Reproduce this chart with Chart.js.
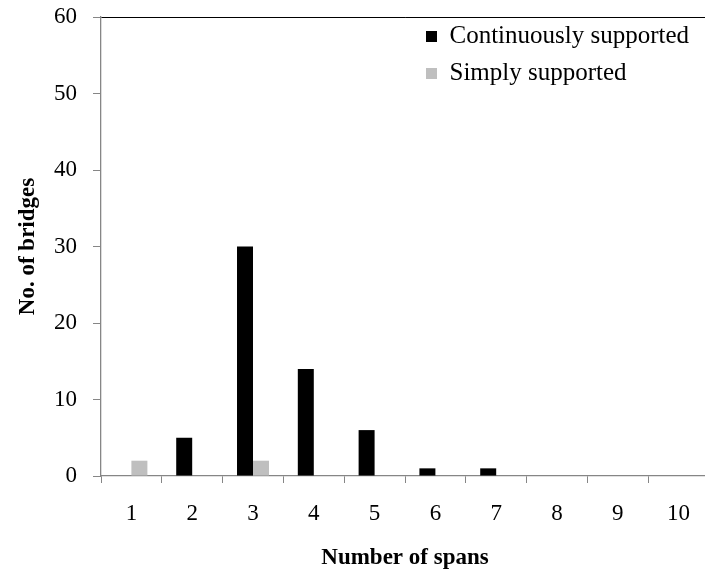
<!DOCTYPE html>
<html>
<head>
<meta charset="utf-8">
<title>Number of spans</title>
<script src="https://cdn.jsdelivr.net/npm/chart.js@4.4.1/dist/chart.umd.min.js"></script>
<style>
  html, body { margin: 0; padding: 0; background: #fff; overflow: hidden; }
  #chartBox { width: 712px; height: 576px; }
</style>
</head>
<body>
<div id="chartBox"><canvas id="spansChart" width="712" height="576"></canvas></div>
<script>
  // Data
  const spans = ['1', '2', '3', '4', '5', '6', '7', '8', '9', '10'];
  const continuousCounts = [0, 5, 30, 14, 6, 1, 1, 0, 0, 0];
  const simpleCounts = [2, 0, 2, 0, 0, 0, 0, 0, 0, 0];
  const yTicks = [0, 10, 20, 30, 40, 50, 60];

  const axisGrey = '#868686';
  Chart.defaults.font.family = '"Liberation Serif", "Times New Roman", serif';
  Chart.defaults.color = '#000';

  // put the legend inside the plot, top right
  const legendInside = {
    id: 'legendInside',
    afterLayout(chart) {
      const lg = chart.legend;
      if (!lg) return;
      const dx = 414 - lg.left;
      const dy = 12 - lg.top;
      lg.left += dx; lg.right += dx;
      lg.top += dy; lg.bottom += dy;
    }
  };

  const ctx = document.getElementById('spansChart').getContext('2d');
  const spansChart = new Chart(ctx, {
    type: 'bar',
    data: {
      labels: spans,
      datasets: [
        {
          label: 'Continuously supported',
          data: continuousCounts,
          backgroundColor: '#000000',
          borderWidth: 0
        },
        {
          label: 'Simply supported',
          data: simpleCounts,
          backgroundColor: '#BFBFBF',
          borderWidth: 0
        }
      ]
    },
    options: {
      responsive: false,
      animation: false,
      categoryPercentage: 0.526,
      barPercentage: 1,
      layout: { padding: { top: 17, left: 0, right: 3, bottom: 0 } },
      plugins: {
        tooltip: { enabled: false },
        legend: {
          position: 'chartArea',
          align: 'start',
          labels: {
            boxWidth: 11,
            boxHeight: 11,
            padding: 12,
            color: '#000',
            font: { size: 25 }
          }
        }
      },
      scales: {
        x: {
          grid: {
            offset: true,
            drawOnChartArea: false,
            color: axisGrey,
            tickLength: 7
          },
          border: { color: axisGrey, width: 1.3 },
          ticks: { padding: 17, font: { size: 23 }, color: '#000', maxRotation: 0 },
          title: {
            display: true,
            text: 'Number of spans',
            font: { size: 23, weight: 'bold' },
            color: '#000',
            padding: { top: 0, bottom: 4 }
          },
          afterFit(scale) {
            scale.height = 100;
            scale.paddingLeft = 0;
            scale.paddingRight = 0;
          }
        },
        y: {
          min: 0,
          max: 60,
          afterBuildTicks(scale) { scale.ticks = yTicks.map(v => ({ value: v })); },
          grid: {
            color: c => (c.tick && c.tick.value === 60 ? '#000' : 'rgba(0,0,0,0)'),
            tickColor: axisGrey,
            tickLength: 8
          },
          border: { color: axisGrey, width: 1.3 },
          ticks: { padding: 16, font: { size: 23 }, color: '#000' },
          title: {
            display: true,
            text: 'No. of bridges',
            font: { size: 23, weight: 'bold' },
            color: '#000',
            padding: { top: 14, bottom: 0 }
          },
          afterFit(scale) {
            scale.width = 101;
            scale.paddingTop = 0;
            scale.paddingBottom = 0;
          }
        }
      }
    },
    plugins: [legendInside]
  });
</script>
</body>
</html>
